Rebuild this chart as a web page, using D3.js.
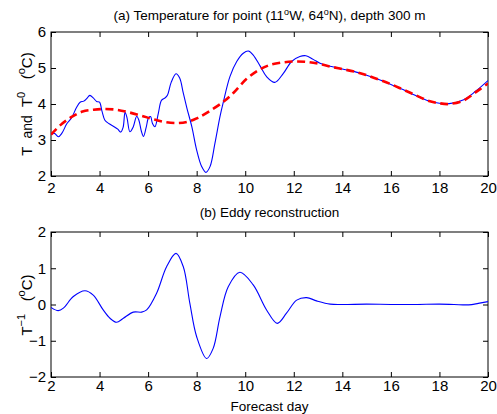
<!DOCTYPE html>
<html>
<head>
<meta charset="utf-8">
<script src="https://cdn.jsdelivr.net/npm/d3@7"></script>
<style>
    html, body { margin: 0; padding: 0; background: #fff; }
    text { font-family: "Liberation Sans", Arial, sans-serif; fill: #000; }
</style>
</head>
<body>
<svg id="svg" width="497" height="414"></svg>
<script>
    // (a) full temperature T
    var tDays = [2.0, 2.15, 2.3, 2.45, 2.65, 2.85, 3.05, 3.2, 3.35, 3.47, 3.6, 3.74, 3.88, 4.0, 4.1, 4.22,
        4.4, 4.6, 4.75, 4.87, 4.97, 5.05, 5.13, 5.25, 5.39, 5.53, 5.62, 5.72, 5.81, 5.92, 6.02, 6.1,
        6.18, 6.28, 6.42, 6.55, 6.7, 6.8, 6.95, 7.15, 7.3, 7.45, 7.6, 7.8, 8.0, 8.2, 8.38, 8.55,
        8.75, 8.96, 9.1, 9.37, 9.65, 9.92, 10.13, 10.33, 10.61, 10.88, 11.22, 11.57, 11.91, 12.25,
        12.5, 12.8, 13.08, 13.35, 13.7, 14, 14.5, 15, 15.5, 16, 16.5, 17, 17.5, 18, 18.4, 19, 19.5, 20];
    var tVals = [3.16, 3.18, 3.09, 3.19, 3.45, 3.62, 3.9, 4.05, 4.08, 4.15, 4.24, 4.17, 4.07, 4.05, 3.8, 3.55,
        3.45, 3.37, 3.3, 3.22, 3.35, 3.77, 3.62, 3.23, 3.37, 3.66, 3.55, 3.25, 3.1, 3.35, 3.62, 3.65,
        3.46, 3.37, 3.74, 4.1, 4.17, 4.25, 4.6, 4.84, 4.72, 4.3, 3.88, 3.37, 2.72, 2.27, 2.1, 2.26,
        2.9, 3.65, 4.06, 4.76, 5.18, 5.41, 5.47, 5.36, 5.06, 4.76, 4.6, 4.85, 5.18, 5.32,
        5.34, 5.24, 5.13, 5.07, 5.02, 4.97, 4.9, 4.8, 4.68, 4.54, 4.4, 4.24, 4.1, 4.02, 4.01, 4.12, 4.36, 4.65];

    // (a) large-scale part T0
    var t0Days = [2, 2.4, 2.85, 3.3, 3.75, 4.2, 4.7, 5.2, 5.7, 6.2, 6.7, 7.2, 7.6, 8.0, 8.5, 9.1, 9.5,
        10.06, 10.6, 11, 11.5, 12, 12.5, 13, 13.5, 14, 14.5, 15, 15.5, 16, 16.5, 17, 17.5, 18, 18.4, 19, 19.5, 20];
    var t0Vals = [3.15, 3.42, 3.64, 3.79, 3.84, 3.86, 3.84, 3.77, 3.68, 3.58, 3.5, 3.47, 3.5, 3.6, 3.79, 4.06, 4.3,
        4.7, 4.96, 5.08, 5.15, 5.18, 5.17, 5.12, 5.04, 4.97, 4.9, 4.8, 4.68, 4.55, 4.4, 4.25, 4.1, 4.02, 4.0, 4.1, 4.33, 4.57];

    // (b) eddy part T-1
    var eDays = [2.0, 2.3, 2.51, 2.92, 3.4, 3.74, 4.15, 4.43, 4.7, 4.98, 5.39, 5.73, 5.94, 6.35, 6.76,
        7.15, 7.45, 7.72, 8.0, 8.41, 8.68, 8.96, 9.3, 9.78, 10.33, 10.88, 11.32, 11.7, 12.12, 12.53,
        12.94, 13.5, 14, 15, 16, 17, 18, 18.6, 19.2, 19.6, 20];
    var eVals = [-0.08, -0.17, -0.1, 0.22, 0.38, 0.26, -0.15, -0.38, -0.49, -0.38, -0.21, -0.21, -0.15, 0.31, 1.04,
        1.41, 1.04, 0.03, -0.89, -1.49, -1.21, -0.34, 0.49, 0.89, 0.54, -0.15, -0.52, -0.24, 0.12, 0.19,
        0.1, 0.01, 0.0, 0.01, 0.0, 0.0, 0.01, 0.0, -0.01, 0.03, 0.08];

    var xTicks = [2, 4, 6, 8, 10, 12, 14, 16, 18, 20];
    var yTicksA = [2, 3, 4, 5, 6];
    var yTicksB = [-2, -1, 0, 1, 2];

    var svg = d3.select("#svg");
    var left = 51, right = 488;

    var x = d3.scaleLinear().domain([2, 20]).range([left, right]);

    function panel(top, bottom, ydom, yticks, pad, title, titleY) {
        var y = d3.scaleLinear().domain(ydom).range([bottom, top]);
        var g = svg.append("g");

        g.append("rect").attr("x", left).attr("y", top)
            .attr("width", right - left).attr("height", bottom - top)
            .attr("fill", "none").attr("stroke", "#000").attr("stroke-width", 1);

        var fmt = function (d) { return d < 0 ? "\u2212" + Math.abs(d) : d; };

        g.append("g").attr("transform", "translate(0," + bottom + ")")
            .call(d3.axisBottom(x).tickValues(xTicks).tickSize(-5).tickPadding(pad).tickFormat(fmt));
        g.append("g").attr("transform", "translate(0," + top + ")")
            .call(d3.axisTop(x).tickValues(xTicks).tickSize(-5).tickFormat(""));
        g.append("g").attr("transform", "translate(" + left + ",0)")
            .call(d3.axisLeft(y).tickValues(yticks).tickSize(-5).tickPadding(5).tickFormat(fmt));
        g.append("g").attr("transform", "translate(" + right + ",0)")
            .call(d3.axisRight(y).tickValues(yticks).tickSize(-5).tickFormat(""));

        g.selectAll(".domain").remove();
        g.selectAll(".tick line").attr("stroke", "#000");
        g.selectAll(".tick text").style("font-size", "15px").attr("fill", "#000");

        var t = svg.append("text").attr("x", (left + right) / 2).attr("y", titleY)
            .attr("text-anchor", "middle").style("font-size", "13.5px");
        title(t);
        return y;
    }

    var yA = panel(32, 176, [2, 6], yTicksA, 6, function (t) {
        t.append("tspan").text("(a) Temperature for point (11");
        t.append("tspan").attr("dy", -5).style("font-size", "9px").text("o");
        t.append("tspan").attr("dy", 5).text("W, 64");
        t.append("tspan").attr("dy", -5).style("font-size", "9px").text("o");
        t.append("tspan").attr("dy", 5).text("N), depth 300 m");
    }, 20);

    var yB = panel(232, 377, [-2, 2], yTicksB, 3, function (t) {
        t.text("(b) Eddy reconstruction");
    }, 217);

    var clip = svg.append("clipPath").attr("id", "clip");
    clip.append("rect").attr("x", left).attr("y", 0).attr("width", right - left).attr("height", 414);

    var lineA = d3.line().x(function (d) { return x(d[0]); }).y(function (d) { return yA(d[1]); })
        .curve(d3.curveCatmullRom.alpha(0.5));
    var lineB = d3.line().x(function (d) { return x(d[0]); }).y(function (d) { return yB(d[1]); })
        .curve(d3.curveCatmullRom.alpha(0.5));

    svg.append("path").datum(d3.zip(tDays, tVals)).attr("d", lineA)
        .attr("fill", "none").attr("stroke", "#0000ff").attr("stroke-width", 1.1)
        .attr("clip-path", "url(#clip)");
    svg.append("path").datum(d3.zip(t0Days, t0Vals)).attr("d", lineA)
        .attr("fill", "none").attr("stroke", "#ff0000").attr("stroke-width", 2.6)
        .attr("stroke-dasharray", "8,4.5").attr("clip-path", "url(#clip)");
    svg.append("path").datum(d3.zip(eDays, eVals)).attr("d", lineB)
        .attr("fill", "none").attr("stroke", "#0000ff").attr("stroke-width", 1.1)
        .attr("clip-path", "url(#clip)");

    // axis labels
    var la = svg.append("text").attr("transform", "translate(32,104) rotate(-90)")
        .attr("text-anchor", "middle").style("font-size", "15px")
        .attr("xml:space", "preserve").style("white-space", "pre");
    la.append("tspan").text("T  ");
    la.append("tspan").style("font-size", "14px").text("and");
    la.append("tspan").text("  T");
    la.append("tspan").attr("dy", -7).style("font-size", "11px").text("0");
    la.append("tspan").attr("dy", 7).text("   (");
    la.append("tspan").attr("dy", -7).style("font-size", "11px").text("o");
    la.append("tspan").attr("dy", 7).text("C)");

    var lb = svg.append("text").attr("transform", "translate(32,305) rotate(-90)")
        .attr("text-anchor", "middle").style("font-size", "15px")
        .attr("xml:space", "preserve").style("white-space", "pre");
    lb.append("tspan").text("T");
    lb.append("tspan").attr("dy", -7).style("font-size", "11px").text("\u22121");
    lb.append("tspan").attr("dy", 7).text("   (");
    lb.append("tspan").attr("dy", -7).style("font-size", "11px").text("o");
    lb.append("tspan").attr("dy", 7).text("C)");

    svg.append("text").attr("x", (left + right) / 2).attr("y", 411)
        .attr("text-anchor", "middle").style("font-size", "13.5px").text("Forecast day");
</script>
</body>
</html>
